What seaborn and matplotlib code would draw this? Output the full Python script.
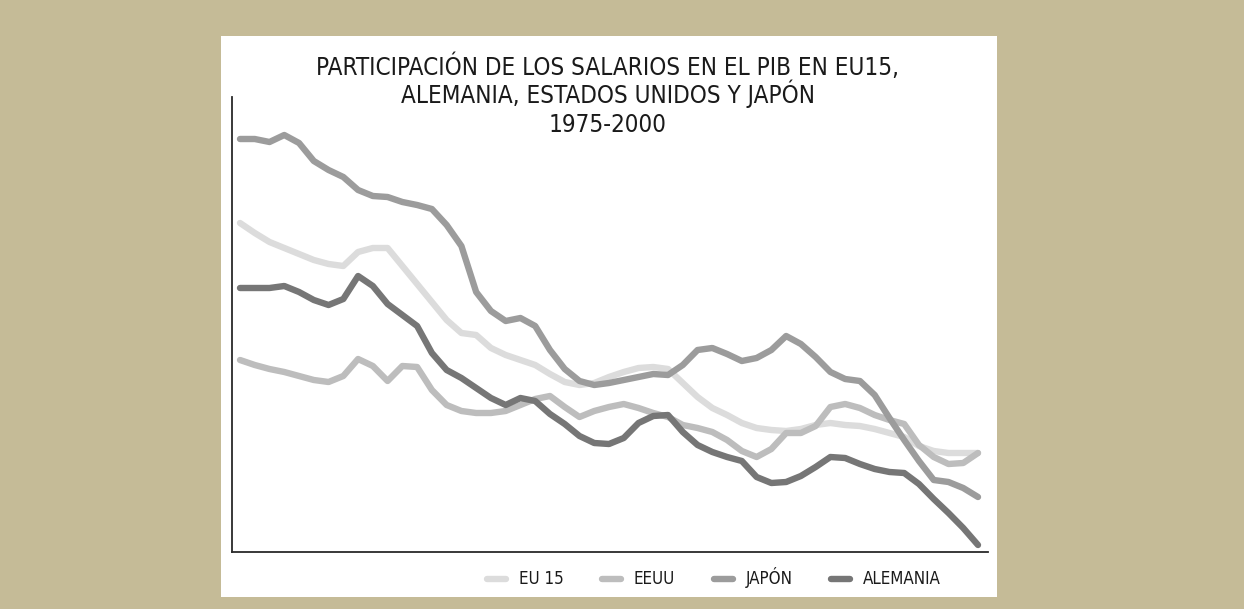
import numpy as np
import pandas as pd
import matplotlib
matplotlib.use("Agg")
import matplotlib.pyplot as plt
from matplotlib import font_manager
from matplotlib.lines import Line2D
from matplotlib.patches import Rectangle
import seaborn as sns

# ---------------- data (arbitrary units) ----------------
years = [1975 + 0.5 * i for i in range(51)]

eu15 = [329, 319, 310, 304, 298, 292, 288, 286, 300, 304, 304, 286, 268, 250, 232,
        219, 217, 204, 197, 192, 187, 178, 170, 167, 169, 175, 180, 184, 185, 183,
        169, 155, 144, 137, 129, 124, 122, 121, 123, 127, 129, 127, 126, 123, 119,
        115, 106, 101, 99, 99, 99]
eeuu = [192, 187, 183, 180, 176, 172, 170, 176, 193, 186, 171, 186, 185, 162, 147,
        141, 139, 139, 141, 147, 153, 156, 145, 135, 141, 145, 148, 144, 139, 135,
        127, 124, 120, 112, 101, 95, 103, 119, 119, 126, 145, 148, 144, 137, 132,
        128, 107, 95, 88, 89, 99]
japon = [413, 413, 410, 417, 409, 391, 382, 375, 362, 356, 355, 350, 347, 343, 327,
         306, 260, 241, 231, 234, 226, 202, 183, 171, 167, 169, 172, 175, 178, 177,
         187, 202, 204, 198, 191, 194, 202, 216, 208, 195, 180, 173, 171, 157, 134,
         112, 91, 72, 70, 64, 55]
alemania = [264, 264, 264, 266, 260, 252, 247, 253, 276, 266, 248, 237, 226, 199, 182,
            174, 164, 154, 147, 154, 151, 138, 128, 116, 109, 108, 114, 129, 136, 137,
            120, 107, 100, 95, 91, 75, 69, 70, 76, 85, 95, 94, 88, 83, 80,
            79, 68, 53, 39, 24, 7]

series_names = ["EU 15", "EEUU", "JAPÓN", "ALEMANIA"]
series_colors = ["#dcdcdc", "#bdbdbd", "#9c9c9c", "#767676"]
title_lines = ["PARTICIPACIÓN DE LOS SALARIOS EN EL PIB EN EU15,",
               "ALEMANIA, ESTADOS UNIDOS Y JAPÓN",
               "1975-2000"]

df = pd.DataFrame({
    "year": years * 4,
    "value": eu15 + eeuu + japon + alemania,
    "serie": sum([[n] * len(years) for n in series_names], []),
})

# ---------------- style ----------------
sns.set_theme(style="white")
names = {f.name for f in font_manager.fontManager.ttflist}
stretch = "normal"
if "Liberation Sans Narrow" in names:
    fam = "Liberation Sans Narrow"
else:
    fam = "DejaVu Sans"
    stretch = "condensed"
plt.rcParams["font.family"] = [fam, "DejaVu Sans"]
plt.rcParams["font.stretch"] = stretch

W, H = 1244, 609
fig = plt.figure(figsize=(W / 100, H / 100), dpi=100)
fig.patch.set_facecolor("#c5bb97")

# white panel (behind the axes)
fig.patches.append(Rectangle((221 / W, 12 / H), 776 / W, 561 / H,
                             transform=fig.transFigure, facecolor="white",
                             edgecolor="none", zorder=-5))

ax = fig.add_axes([232 / W, 57 / H, 756 / W, 455 / H])
ax.set_facecolor("none")
ax.set_zorder(1)

sns.lineplot(data=df, x="year", y="value", hue="serie", hue_order=series_names,
             palette=series_colors, linewidth=4.6, ax=ax, legend=False,
             estimator=None, sort=False)
for ln in ax.get_lines():
    ln.set_solid_capstyle("round")
    ln.set_solid_joinstyle("round")

ax.set_xlim(1975 - 8 / 29.52, 2000 + 10 / 29.52)
ax.set_ylim(0, 455)
ax.set_xticks([])
ax.set_yticks([])
ax.set_xlabel("")
ax.set_ylabel("")
for s in ["top", "right"]:
    ax.spines[s].set_visible(False)
for s in ["left", "bottom"]:
    ax.spines[s].set_color("#2a2a2a")
    ax.spines[s].set_linewidth(1.3)

# title: three lines at fixed baselines
for txt, base in zip(title_lines, [75, 103.5, 132]):
    fig.text(608 / W, (H - base) / H, txt, ha="center", va="baseline",
             fontsize=17.4, color="#1a1a1a", stretch=stretch)

# legend
handles = [Line2D([0], [0], color=c, linewidth=4.6, solid_capstyle="round")
           for c in series_colors]
leg = fig.legend(handles, series_names, loc="center", ncol=4,
                 bbox_to_anchor=(714 / W, (H - 578) / H), frameon=False,
                 fontsize=12.2, handlelength=1.1, handletextpad=0.75,
                 columnspacing=2.3, borderaxespad=0)
for t in leg.get_texts():
    t.set_color("#1a1a1a")

fig.savefig("out.png", dpi=100, facecolor=fig.get_facecolor())
